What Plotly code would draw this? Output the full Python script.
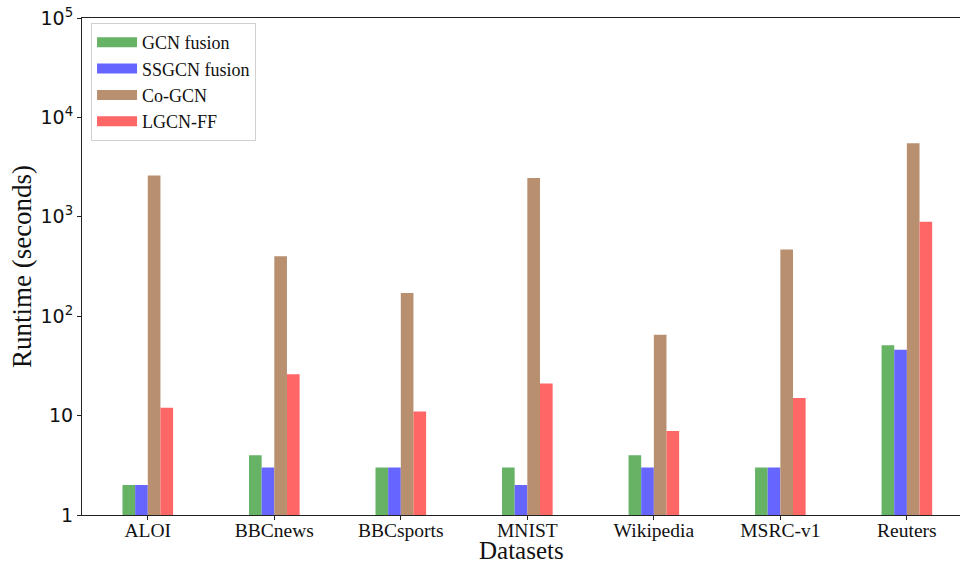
import plotly.graph_objects as go

datasets = ["ALOI", "BBCnews", "BBCsports", "MNIST", "Wikipedia", "MSRC-v1", "Reuters"]
gcn_fusion = [2, 4, 3, 3, 4, 3, 51]
ssgcn_fusion = [2, 3, 3, 2, 3, 3, 46]
co_gcn = [2600, 400, 171, 2450, 65, 470, 5500]
lgcn_ff = [12, 26, 11, 21, 7, 15, 890]

series = [
    ("GCN fusion", gcn_fusion, "#66b366"),
    ("SSGCN fusion", ssgcn_fusion, "#6666ff"),
    ("Co-GCN", co_gcn, "#b89070"),
    ("LGCN-FF", lgcn_ff, "#ff6666"),
]

ytick_vals = [1, 10, 100, 1000, 10000, 100000]
ytick_text = ["1", "10", "10<sup>2</sup>", "10<sup>3</sup>", "10<sup>4</sup>", "10<sup>5</sup>"]

fig = go.Figure()
for name, vals, color in series:
    fig.add_trace(go.Bar(
        x=list(range(len(datasets))), y=vals, name=name,
        marker=dict(color=color, line=dict(width=0)),
        showlegend=False, legendgroup=name,
    ))
# Legend keys drawn as thick line patches so they look like wide colour swatches
for name, vals, color in series:
    fig.add_trace(go.Scatter(
        x=[None], y=[None], mode="lines", name=name, legendgroup=name,
        line=dict(color=color, width=13),
    ))

serif = "Liberation Serif, Times New Roman, serif"
fig.update_layout(
    width=961, height=566,
    margin=dict(l=82, r=1, t=18, b=51),
    paper_bgcolor="white", plot_bgcolor="white",
    barmode="group", bargap=0.6, bargroupgap=0,
    showlegend=True,
    legend=dict(
        x=0.0103, y=0.99, xanchor="left", yanchor="top",
        bgcolor="rgba(255,255,255,0.8)", bordercolor="#d0d0d0", borderwidth=1,
        font=dict(family=serif, size=18, color="#111"),
        tracegroupgap=0, itemwidth=40,
    ),
    xaxis=dict(
        range=[-0.52, 6.42],
        tickmode="array", tickvals=list(range(len(datasets))), ticktext=datasets,
        tickfont=dict(family=serif, size=19.5, color="#111"),
        ticks="outside", ticklen=4, tickcolor="#222",
        ticklabelstandoff=-7,
        showline=True, linecolor="#222", linewidth=1.2, mirror=True,
        showgrid=False, zeroline=False,
    ),
    yaxis=dict(
        type="log", range=[0, 5],
        tickmode="array", tickvals=ytick_vals, ticktext=ytick_text,
        tickfont=dict(family="DejaVu Sans, sans-serif", size=19, color="#111"),
        ticks="outside", ticklen=4, tickcolor="#222",
        showline=True, linecolor="#222", linewidth=1.2,
        showgrid=False, zeroline=False,
        title=dict(text="Runtime (seconds)", font=dict(family=serif, size=27, color="#111"), standoff=0),
    ),
)

# x-axis title placed as an annotation at the bottom edge, below the tick labels
fig.add_annotation(
    text="Datasets", xref="paper", yref="paper", x=0.5, y=0,
    xanchor="center", yanchor="bottom", yshift=-50, showarrow=False,
    borderpad=0,
    font=dict(family=serif, size=25, color="#111"),
)

fig.write_html("out.html")
